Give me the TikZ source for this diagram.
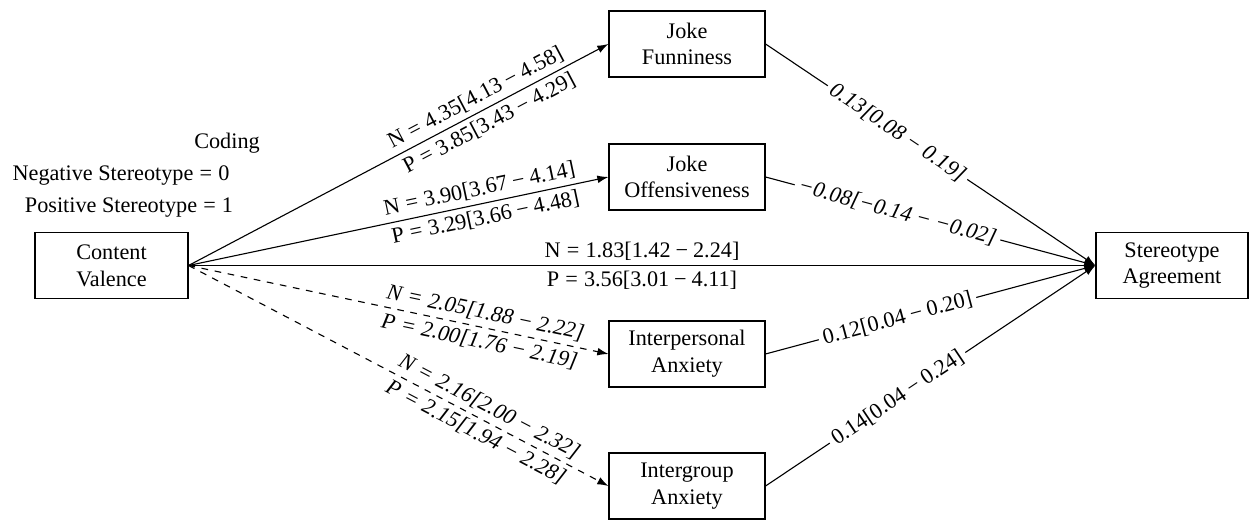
\documentclass[tikz,border=0pt]{standalone}
\usepackage{fontspec}
\setmainfont{Liberation Serif}
\usetikzlibrary{arrows.meta}
\newcommand{\eqs}{\hspace{0.2778em}=\hspace{0.2778em}}
\newcommand{\mns}{\hspace{0.2222em}−\hspace{0.2222em}}
\begin{document}
\begin{tikzpicture}[x=0.45pt,y=-0.45pt, font=\fontsize{10}{12}\selectfont,
 box/.style={draw, line width=0.5pt, align=center, minimum width=70.2pt, minimum height=29.7pt, inner sep=0pt},
 conn/.style={line width=0.5pt, -{Latex[length=5pt,width=3.5pt]}},
 dconn/.style={conn, dashed},
 lab/.style={sloped, inner sep=2.2pt},
 ilab/.style={lab, font=\fontsize{10}{12}\selectfont\itshape},
 mid/.style={sloped, fill=white, inner sep=2pt},
 imid/.style={mid, font=\fontsize{10}{12}\selectfont\itshape}]
\useasboundingbox (0,0) rectangle (1249,520);
\node[box, minimum width=68.85pt] (cv) at (111.5,265.5) {Content\\Valence};
\node[box] (jf) at (687,44) {Joke\\Funniness};
\node[box] (jo) at (687,177) {Joke\\Offensiveness};
\node[box] (ia) at (687,354) {Interpersonal\\Anxiety};
\node[box] (ig) at (687,486) {Intergroup\\Anxiety};
\node[box, minimum width=68.4pt] (sa) at (1172,265.5) {Stereotype\\Agreement};
\node (cod) at (227,143) {Coding};
\node (neg) at (121,176) {Negative Stereotype\eqs 0};
\node (posi) at (129,208) {Positive Stereotype\eqs 1};
\draw[conn] (cv.east) -- node[lab,pos=0.7,above]{N\eqs 4.35[4.13\mns 4.58]} node[lab,pos=0.7,below]{P\eqs 3.85[3.43\mns 4.29]} (jf.west);
\draw[conn] (cv.east) -- node[lab,pos=0.7,above]{N\eqs 3.90[3.67\mns 4.14]} node[lab,pos=0.7,below]{P\eqs 3.29[3.66\mns 4.48]} (jo.west);
\draw[conn] (cv.east) -- node[lab,pos=0.5,above]{N\eqs 1.83[1.42\mns 2.24]} node[lab,pos=0.5,below]{P\eqs 3.56[3.01\mns 4.11]} (sa.west);
\draw[dconn] (cv.east) -- node[ilab,pos=0.7,above]{N\eqs 2.05[1.88\mns 2.22]} node[ilab,pos=0.7,below]{P\eqs 2.00[1.76\mns 2.19]} (ia.west);
\draw[dconn] (cv.east) -- node[ilab,pos=0.7,above]{N\eqs 2.16[2.00\mns 2.32]} node[ilab,pos=0.7,below]{P\eqs 2.15[1.94\mns 2.28]} (ig.west);
\draw[conn] (jf.east) -- node[imid,pos=0.4]{0.13[0.08\mns 0.19]} (sa.west);
\draw[conn] (jo.east) -- node[imid,pos=0.4]{−0.08[−0.14\mns −0.02]} (sa.west);
\draw[conn] (ia.east) -- node[mid,pos=0.4]{0.12[0.04\mns 0.20]} (sa.west);
\draw[conn] (ig.east) -- node[mid,pos=0.4]{0.14[0.04\mns 0.24]} (sa.west);
\end{tikzpicture}
\end{document}
